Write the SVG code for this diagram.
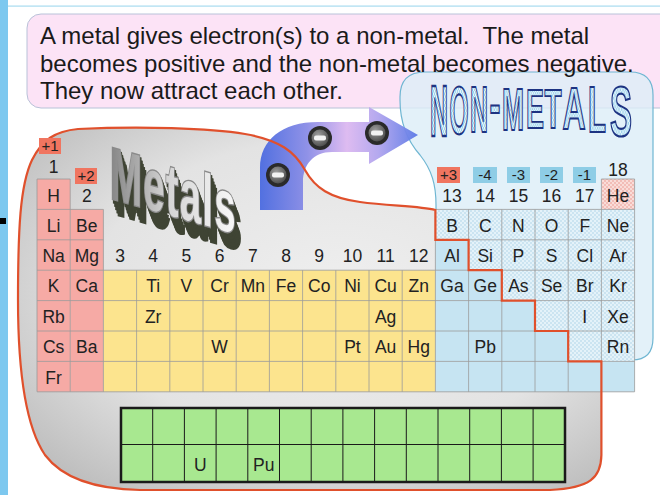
<svg xmlns="http://www.w3.org/2000/svg" width="660" height="495" viewBox="0 0 660 495">
<defs>
<style>
.el{font-family:"Liberation Sans",Arial,sans-serif;font-size:17.5px;fill:#222;text-anchor:middle}
.hd{font-family:"Liberation Sans",Arial,sans-serif;font-size:24px;fill:#1a1a1a}
.bd{font-family:"Liberation Sans",Arial,sans-serif;font-size:15px;fill:#222;text-anchor:middle}
.nm{font-family:"Liberation Sans",Arial,sans-serif;font-weight:bold;font-size:50px;fill:url(#nmchk);stroke:#1d3382;stroke-width:1.6;text-anchor:middle}
.mt{font-family:"Liberation Sans",Arial,sans-serif;font-weight:bold;font-size:64px;letter-spacing:2px}
.pk{fill:#f6aaa5}.yl{fill:#fce48e}.bl{fill:#c6e4f2}.ck{fill:url(#chk)}.hk{fill:url(#pchk)}
.grid{fill:none;stroke:#9a9a9a;stroke-width:0.8}
.rb{fill:#f07560}.bb{fill:#8ecde6}
.gl{fill:none;stroke:#1a1a1a;stroke-width:1}
.ex{fill:#3f4434;stroke:#3f4434;stroke-width:3}
</style>
<pattern id="chk" width="4" height="4" patternUnits="userSpaceOnUse"><rect width="4" height="4" fill="#e4f2f9"/><rect width="2" height="2" fill="#cbe4f1"/><rect x="2" y="2" width="2" height="2" fill="#cbe4f1"/></pattern>
<pattern id="pchk" width="4" height="4" patternUnits="userSpaceOnUse"><rect width="4" height="4" fill="#f9dcd8"/><rect width="2" height="2" fill="#f2bdb7"/><rect x="2" y="2" width="2" height="2" fill="#f2bdb7"/></pattern>
<pattern id="nmchk" width="4" height="4" patternUnits="userSpaceOnUse"><rect width="4" height="4" fill="#e6f5fc"/><rect width="2" height="2" fill="#9fd3ec"/><rect x="2" y="2" width="2" height="2" fill="#9fd3ec"/></pattern>
<radialGradient id="gray" cx="0.55" cy="0.45" r="0.7"><stop offset="0" stop-color="#efefef"/><stop offset="0.6" stop-color="#e3e3e3"/><stop offset="1" stop-color="#bcbcbc"/></radialGradient>
<linearGradient id="arr" x1="0" y1="0" x2="1" y2="0"><stop offset="0" stop-color="#4a6ae0"/><stop offset="0.3" stop-color="#8a8ce6"/><stop offset="0.55" stop-color="#dcb8f0"/><stop offset="0.75" stop-color="#b0a4ee"/><stop offset="1" stop-color="#5a78e6"/></linearGradient>
<linearGradient id="metal" x1="0" y1="0" x2="1" y2="0"><stop offset="0" stop-color="#858585"/><stop offset="0.45" stop-color="#d4d4d4"/><stop offset="1" stop-color="#f8f8f8"/></linearGradient>
<radialGradient id="eg" cx="0.4" cy="0.35" r="0.7"><stop offset="0" stop-color="#a0a0a0"/><stop offset="1" stop-color="#4a4a4a"/></radialGradient>
<g id="electron"><circle r="12" fill="#2a2a2a"/><circle r="8.5" fill="url(#eg)"/><rect x="-6" y="-2.5" width="12" height="5" rx="2" fill="#f2f2f2"/></g>
</defs>

<rect width="660" height="495" fill="#ffffff"/>
<rect x="8" y="5.5" width="652" height="1.2" fill="#a8dcef"/>
<rect x="0" y="0" width="8" height="495" fill="#7dc8ef"/>
<rect x="0" y="218" width="6" height="6" fill="#000"/>

<g id="header-box">
<rect x="27" y="14" width="660" height="94" rx="14" fill="#fce3f6" stroke="#b8c2d8" stroke-width="1"/>
</g>

<g id="nonmetal-region">
<path d="M425,72 H630 Q653,72 653,95 V338 Q653,360 632,360 H436 V205 C436,185 432,170 420,155 C405,138 400,120 400,100 V97 Q400,72 425,72 Z" fill="#dcedf8" fill-opacity="0.8" stroke="#6fb6d2" stroke-width="1.2"/>
</g>

<g id="metal-region">
<path d="M78,129 C140,126 210,128 245,134 C280,140 295,152 305,170 C315,188 330,198 360,202 C390,206 420,206 435.4,210 L435.4,239.8 L468.6,239.8 L468.6,270.2 L501.8,270.2 L501.8,300.6 L535,300.6 L535,331 L568.2,331 L568.2,361.4 L601.4,361.4 L601.4,455 C601,478 590,488 550,490 L140,490 C90,489 60,475 45,455 C28,430 18,380 18,300 C18,230 20,185 32,160 C42,140 55,131 78,129 Z" fill="url(#gray)"/>
</g>

<g id="connectors">
<path d="M260,210 L260,168 C260,140 282,122 318,122 L369,122 L369,107 L418,135 L369,164 L369,152 L332,152 C313,152 303,165 303,182 L303,210 Z" fill="url(#arr)" fill-opacity="0.95"/>
</g>

<g id="metals-title" transform="translate(110,198) skewY(16) scale(0.6,1.15)">
<text class="mt ex" x="2" y="2.5">Metals</text>
<text class="mt ex" x="4" y="5">Metals</text>
<text class="mt ex" x="6" y="7.5">Metals</text>
<text class="mt ex" x="8" y="10">Metals</text>
<text class="mt ex" x="10" y="12.5">Metals</text>
<text class="mt" x="0" y="0" fill="url(#metal)" stroke="#8a8a8a" stroke-width="2.5" paint-order="stroke">Metals</text>
</g>

<g id="table">
<rect class="pk" x="37" y="179" width="33.2" height="212.8"/>
<rect class="pk" x="70.2" y="209.4" width="33.2" height="182.4"/>
<rect class="yl" x="103.4" y="270.2" width="332" height="121.6"/>
<rect class="hk" x="601.4" y="179" width="33.2" height="30.4"/>
<rect class="ck" x="435.4" y="209.4" width="199.2" height="30.4"/>
<rect class="ck" x="468.6" y="239.8" width="166" height="30.4"/>
<rect class="ck" x="501.8" y="270.2" width="132.8" height="30.4"/>
<rect class="ck" x="535" y="300.6" width="99.6" height="30.4"/>
<rect class="ck" x="568.2" y="331" width="66.4" height="30.4"/>
<rect class="bl" x="435.4" y="239.8" width="33.2" height="30.4"/>
<rect class="bl" x="435.4" y="270.2" width="66.4" height="30.4"/>
<rect class="bl" x="435.4" y="300.6" width="99.6" height="30.4"/>
<rect class="bl" x="435.4" y="331" width="132.8" height="30.4"/>
<rect class="bl" x="435.4" y="361.4" width="199.2" height="30.4"/>
<path class="grid" d="M37,179V391.8 M70.2,179V391.8 M103.4,209.4V391.8 M136.6,270.2V391.8 M169.8,270.2V391.8 M203,270.2V391.8 M236.2,270.2V391.8 M269.4,270.2V391.8 M302.6,270.2V391.8 M335.8,270.2V391.8 M369,270.2V391.8 M402.2,270.2V391.8 M435.4,209.4V391.8 M468.6,209.4V391.8 M501.8,209.4V391.8 M535,209.4V391.8 M568.2,209.4V391.8 M601.4,179V391.8 M634.6,179V391.8 M37,179H70.2 M601.4,179H634.6 M37,209.4H103.4 M435.4,209.4H634.6 M37,239.8H103.4 M435.4,239.8H634.6 M37,270.2H634.6 M37,300.6H634.6 M37,331H634.6 M37,361.4H634.6 M37,391.8H634.6"/>
</g>

<g id="metal-outline">
<path d="M78,129 C140,126 210,128 245,134 C280,140 295,152 305,170 C315,188 330,198 360,202 C390,206 420,206 435.4,210 L435.4,239.8 L468.6,239.8 L468.6,270.2 L501.8,270.2 L501.8,300.6 L535,300.6 L535,331 L568.2,331 L568.2,361.4 L601.4,361.4 L601.4,455 C601,478 590,488 550,490 L140,490 C90,489 60,475 45,455 C28,430 18,380 18,300 C18,230 20,185 32,160 C42,140 55,131 78,129 Z" fill="none" stroke="#e0502c" stroke-width="2.2"/>
</g>

<g id="badges">
<rect class="rb" x="39" y="138" width="22" height="16"/><text class="bd" x="50" y="151">+1</text>
<rect class="rb" x="75" y="168" width="22" height="16"/><text class="bd" x="86" y="181">+2</text>
<rect class="rb" x="437" y="167" width="23" height="16"/><text class="bd" x="448.5" y="180">+3</text>
<rect class="bb" x="473" y="167" width="24" height="16"/><text class="bd" x="485" y="180">-4</text>
<rect class="bb" x="507" y="167" width="23" height="16"/><text class="bd" x="518.5" y="180">-3</text>
<rect class="bb" x="540" y="167" width="23" height="16"/><text class="bd" x="551.5" y="180">-2</text>
<rect class="bb" x="573" y="167" width="23" height="16"/><text class="bd" x="584.5" y="180">-1</text>
</g>

<g id="group-numbers">
<text class="el" x="53.6" y="173">1</text>
<text class="el" x="86.8" y="201.5">2</text>
<text class="el" x="452" y="201.5">13</text>
<text class="el" x="485.2" y="201.5">14</text>
<text class="el" x="518.4" y="201.5">15</text>
<text class="el" x="551.6" y="201.5">16</text>
<text class="el" x="584.8" y="201.5">17</text>
<text class="el" x="618" y="176">18</text>
<text class="el" x="120" y="262">3</text>
<text class="el" x="153.2" y="262">4</text>
<text class="el" x="186.4" y="262">5</text>
<text class="el" x="219.6" y="262">6</text>
<text class="el" x="252.8" y="262">7</text>
<text class="el" x="286" y="262">8</text>
<text class="el" x="319.2" y="262">9</text>
<text class="el" x="352.4" y="262">10</text>
<text class="el" x="385.6" y="262">11</text>
<text class="el" x="418.8" y="262">12</text>
</g>

<g id="elements">
<text class="el" x="53.6" y="201.5">H</text>
<text class="el" x="618" y="201.5">He</text>
<text class="el" x="53.6" y="231.6">Li</text>
<text class="el" x="86.8" y="231.6">Be</text>
<text class="el" x="452" y="231.6">B</text>
<text class="el" x="485.2" y="231.6">C</text>
<text class="el" x="518.4" y="231.6">N</text>
<text class="el" x="551.6" y="231.6">O</text>
<text class="el" x="584.8" y="231.6">F</text>
<text class="el" x="618" y="231.6">Ne</text>
<text class="el" x="53.6" y="262">Na</text>
<text class="el" x="86.8" y="262">Mg</text>
<text class="el" x="452" y="262">Al</text>
<text class="el" x="485.2" y="262">Si</text>
<text class="el" x="518.4" y="262">P</text>
<text class="el" x="551.6" y="262">S</text>
<text class="el" x="584.8" y="262">Cl</text>
<text class="el" x="618" y="262">Ar</text>
<text class="el" x="53.6" y="292.4">K</text>
<text class="el" x="86.8" y="292.4">Ca</text>
<text class="el" x="153.2" y="292.4">Ti</text>
<text class="el" x="186.4" y="292.4">V</text>
<text class="el" x="219.6" y="292.4">Cr</text>
<text class="el" x="252.8" y="292.4">Mn</text>
<text class="el" x="286" y="292.4">Fe</text>
<text class="el" x="319.2" y="292.4">Co</text>
<text class="el" x="352.4" y="292.4">Ni</text>
<text class="el" x="385.6" y="292.4">Cu</text>
<text class="el" x="418.8" y="292.4">Zn</text>
<text class="el" x="452" y="292.4">Ga</text>
<text class="el" x="485.2" y="292.4">Ge</text>
<text class="el" x="518.4" y="292.4">As</text>
<text class="el" x="551.6" y="292.4">Se</text>
<text class="el" x="584.8" y="292.4">Br</text>
<text class="el" x="618" y="292.4">Kr</text>
<text class="el" x="53.6" y="322.8">Rb</text>
<text class="el" x="153.2" y="322.8">Zr</text>
<text class="el" x="385.6" y="322.8">Ag</text>
<text class="el" x="584.8" y="322.8">I</text>
<text class="el" x="618" y="322.8">Xe</text>
<text class="el" x="53.6" y="353.2">Cs</text>
<text class="el" x="86.8" y="353.2">Ba</text>
<text class="el" x="219.6" y="353.2">W</text>
<text class="el" x="352.4" y="353.2">Pt</text>
<text class="el" x="385.6" y="353.2">Au</text>
<text class="el" x="418.8" y="353.2">Hg</text>
<text class="el" x="485.2" y="353.2">Pb</text>
<text class="el" x="618" y="353.2">Rn</text>
<text class="el" x="53.6" y="383.6">Fr</text>
</g>

<g id="electrons">
<use href="#electron" x="278" y="175"/>
<use href="#electron" x="320" y="138"/>
<use href="#electron" x="377" y="133"/>
</g>

<g id="nonmetals-title">
<text class="nm" transform="translate(439,136) scale(0.5,1.45)">N</text>
<text class="nm" transform="translate(459,134) scale(0.49,1.37)">O</text>
<text class="nm" transform="translate(479,132) scale(0.5,1.28)">N</text>
<text class="nm" transform="translate(495,126) scale(0.66,1.25)">-</text>
<text class="nm" transform="translate(513,130) scale(0.53,1.17)">M</text>
<text class="nm" transform="translate(535,128) scale(0.54,1.12)">E</text>
<text class="nm" transform="translate(553,128) scale(0.56,1.12)">T</text>
<text class="nm" transform="translate(574,129) scale(0.64,1.2)">A</text>
<text class="nm" transform="translate(597,132) scale(0.59,1.3)">L</text>
<text class="nm" transform="translate(621,136) scale(0.66,1.4)">S</text>
</g>

<g id="header-text">
<text class="hd" x="40" y="44" xml:space="preserve">A metal gives electron(s) to a non-metal.  The metal</text>
<text class="hd" x="40" y="71.5">becomes positive and the non-metal becomes negative.</text>
<text class="hd" x="40" y="99">They now attract each other.</text>
</g>

<g id="f-block">
<rect x="121" y="408" width="444" height="74" fill="#a8e890"/>
<path class="gl" d="M121,444.5H565 M152.7,408V482 M184.4,408V482 M216.1,408V482 M247.8,408V482 M279.5,408V482 M311.2,408V482 M342.9,408V482 M374.6,408V482 M406.3,408V482 M438,408V482 M469.7,408V482 M501.4,408V482 M533.1,408V482"/>
<rect x="121" y="408" width="444" height="74" fill="none" stroke="#1a1a1a" stroke-width="2.5"/>
<text class="el" x="200.3" y="471">U</text>
<text class="el" x="263.7" y="471">Pu</text>
</g>
</svg>
